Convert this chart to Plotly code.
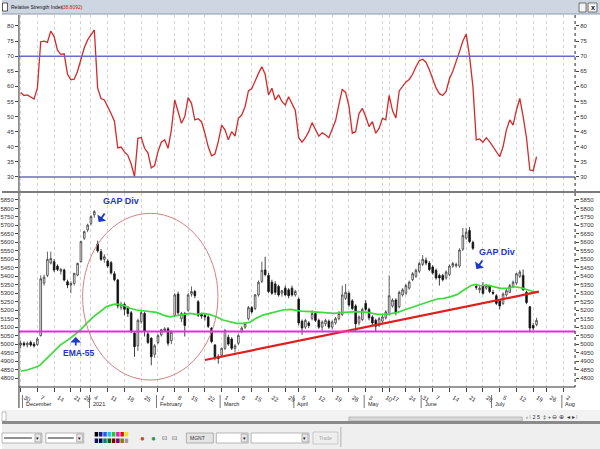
import plotly.graph_objects as go
import pandas as pd

W, H = 600, 449

# ---------------- trading calendar ----------------
holidays = ["2020-12-24", "2020-12-25", "2020-12-31", "2021-01-01", "2021-02-12",
            "2021-03-11", "2021-04-02", "2021-05-12", "2021-05-13", "2021-05-14",
            "2021-05-26", "2021-06-01", "2021-07-20"]
days = pd.bdate_range("2020-11-30", "2021-08-06")
days = days[~days.isin(pd.to_datetime(holidays))]

# ---------------- price data (OHLC, one per trading day) ----------------
open_ = [4995, 5005, 4995, 5010, 5000, 4998, 5050, 5360, 5405, 5478,
         5486, 5460, 5430, 5437, 5368, 5348, 5358, 5407, 5486, 5624,
         5673, 5712, 5762, 5590, 5545, 5500, 5490, 5480, 5415, 5378,
         5215, 5235, 5215, 5185, 5065, 4990, 5132, 5180, 5060, 5035,
         4940, 5010, 5055, 5080, 5090, 5020, 5170, 5295, 5150, 5180,
         5200, 5295, 5310, 5250, 5175, 5170, 5160, 5095, 4995, 4925,
         4935, 4975, 5040, 5030, 4975, 5005, 5075, 5100, 5150, 5215,
         5210, 5290, 5370, 5437, 5405, 5365, 5355, 5340, 5300, 5330,
         5320, 5330, 5290, 5265, 5135, 5100, 5125, 5150, 5180, 5140,
         5100, 5120, 5135, 5100, 5125, 5150, 5175, 5270, 5300, 5255,
         5225, 5125, 5145, 5240, 5205, 5160, 5140, 5110, 5135, 5155,
         5180, 5225, 5260, 5220, 5290, 5300, 5330, 5380, 5400, 5430,
         5470, 5495, 5478, 5455, 5435, 5405, 5405, 5390, 5410, 5460,
         5462, 5460, 5560, 5625, 5670, 5600, 5340, 5320, 5345, 5330,
         5345, 5305, 5285, 5255, 5240, 5290, 5305, 5340, 5360, 5400,
         5405, 5305, 5220, 5110, 5115]
high = [5020, 5015, 5015, 5020, 5012, 5040, 5405, 5410, 5545, 5545,
        5500, 5470, 5450, 5445, 5380, 5370, 5420, 5480, 5610, 5670,
        5710, 5760, 5790, 5610, 5560, 5530, 5500, 5490, 5430, 5385,
        5250, 5245, 5225, 5195, 5070, 5150, 5195, 5190, 5070, 5040,
        5000, 5060, 5090, 5100, 5100, 5080, 5300, 5310, 5190, 5190,
        5300, 5340, 5320, 5260, 5185, 5180, 5170, 5100, 5000, 4940,
        4980, 5090, 5055, 5040, 5000, 5060, 5105, 5125, 5225, 5225,
        5295, 5375, 5486, 5515, 5420, 5380, 5370, 5350, 5320, 5345,
        5330, 5345, 5320, 5275, 5145, 5150, 5135, 5200, 5190, 5150,
        5140, 5150, 5145, 5140, 5160, 5195, 5345, 5355, 5310, 5265,
        5235, 5170, 5215, 5260, 5215, 5170, 5150, 5160, 5170, 5200,
        5405, 5270, 5270, 5315, 5330, 5355, 5375, 5425, 5445, 5485,
        5525, 5510, 5490, 5465, 5445, 5415, 5415, 5435, 5470, 5485,
        5480, 5565, 5685, 5685, 5690, 5610, 5355, 5345, 5365, 5355,
        5350, 5320, 5295, 5265, 5305, 5325, 5355, 5375, 5420, 5437,
        5440, 5315, 5225, 5125, 5155]
low = [4975, 4985, 4980, 4985, 4980, 4990, 5045, 5345, 5395, 5470,
       5425, 5430, 5410, 5370, 5330, 5300, 5345, 5400, 5480, 5615,
       5660, 5700, 5745, 5540, 5490, 5480, 5450, 5410, 5370, 5210,
       5200, 5170, 5160, 5065, 4925, 4960, 5120, 5045, 5000, 4875,
       4920, 5000, 5045, 5070, 4990, 5000, 5160, 5170, 5130, 5045,
       5190, 5280, 5270, 5160, 5150, 5140, 5095, 5005, 4905, 4885,
       4920, 4965, 4990, 4965, 4950, 4995, 5065, 5090, 5140, 5180,
       5200, 5280, 5360, 5400, 5300, 5290, 5290, 5280, 5280, 5285,
       5270, 5280, 5280, 5110, 5055, 5090, 5095, 5140, 5130, 5090,
       5070, 5105, 5090, 5085, 5115, 5140, 5165, 5260, 5220, 5200,
       5075, 5110, 5135, 5195, 5140, 5110, 5075, 5100, 5125, 5145,
       5170, 5215, 5170, 5210, 5280, 5290, 5320, 5370, 5390, 5420,
       5460, 5465, 5430, 5410, 5380, 5345, 5370, 5380, 5400, 5450,
       5450, 5450, 5550, 5615, 5595, 5555, 5320, 5300, 5290, 5320,
       5300, 5290, 5230, 5205, 5230, 5280, 5300, 5330, 5350, 5390,
       5315, 5235, 5070, 5080, 5105]
close = [5005, 4995, 5005, 4995, 4990, 5030, 5385, 5395, 5500, 5505,
         5437, 5440, 5440, 5378, 5348, 5358, 5417, 5476, 5604, 5663,
         5702, 5752, 5781, 5550, 5500, 5515, 5460, 5420, 5380, 5225,
         5235, 5205, 5180, 5075, 4985, 5140, 5185, 5075, 5010, 4925,
         4990, 5050, 5085, 5090, 5005, 5070, 5290, 5185, 5180, 5110,
         5290, 5310, 5285, 5170, 5165, 5160, 5105, 5015, 4925, 4915,
         4975, 5080, 5000, 4975, 4990, 5050, 5095, 5120, 5215, 5190,
         5290, 5365, 5435, 5410, 5310, 5300, 5305, 5290, 5315, 5290,
         5285, 5290, 5310, 5125, 5095, 5140, 5110, 5180, 5140, 5100,
         5130, 5140, 5100, 5130, 5150, 5180, 5290, 5305, 5230, 5210,
         5120, 5160, 5205, 5205, 5155, 5125, 5105, 5150, 5160, 5190,
         5285, 5260, 5185, 5305, 5320, 5345, 5365, 5415, 5435, 5475,
         5500, 5478, 5440, 5420, 5390, 5390, 5380, 5425, 5460, 5475,
         5470, 5555, 5640, 5660, 5605, 5565, 5335, 5330, 5300, 5345,
         5310, 5300, 5240, 5225, 5295, 5315, 5345, 5365, 5415, 5425,
         5320, 5245, 5095, 5095, 5140]

# ---------------- RSI (one per trading day) ----------------
rsi = [58, 57, 57.2, 56.6, 55.8, 59.4, 74.8, 75, 74.6, 78.3,
       76.5, 72, 70.6, 70.8, 64, 62.2, 62.4, 65, 68.5, 72.8,
       75.4, 77, 78.7, 59.4, 56, 55.5, 53.5, 51, 48.5, 39.6,
       39.9, 38.3, 37.2, 34.3, 30.1, 42.8, 43.1, 39.5, 38, 33,
       33.8, 38.4, 41.5, 42.3, 39.5, 45.6, 55.5, 51.6, 47.8, 50,
       56.3, 54.4, 48.9, 49.3, 48.3, 44.5, 40, 37, 37.6, 41.7,
       47.2, 45.6, 42.3, 45, 43.5, 49.4, 50.5, 53.3, 58.5, 59.3,
       62.1, 64.3, 66.5, 64, 57.2, 59.4, 55.5, 57.2, 55, 53.8,
       56.6, 54.4, 52, 43, 41.5, 43, 45, 48, 45.5, 43.5,
       44.6, 44, 43, 45.5, 48.6, 54, 59, 58, 53.5, 44.5,
       45, 51, 52.7, 50, 46.7, 48.3, 44.5, 46.1, 49.4, 48.9,
       57, 52, 49.5, 58.5, 60, 61.5, 62.3, 64, 66.5, 68.5,
       69, 68, 65.5, 62.5, 59.5, 57.6, 57, 58.3, 62.5, 65,
       68, 71.5, 75, 77.3, 70, 60, 42.3, 42.6, 41.5, 43,
       41.7, 40, 38.4, 36.7, 40, 45.6, 48.9, 47.2, 52.2, 56,
       50, 43, 32.3, 32.1, 36.7]
rsi_levels = [70, 30]

# ---------------- EMA-55 ----------------
ema_x = [0, 1.9, 4.9, 5.8, 8.8, 11.8, 14.8, 17.8, 19.7, 21.7, 23.7, 25.7, 27.7, 28.7,
         30.6, 32.6, 34.6, 36.6, 38.6, 40.6, 42.6, 44.5, 46.5, 48.5, 50.5, 52.5, 54.5,
         56.4, 58.4, 60.4, 62.4, 64.4, 66.4, 68.3, 70.3, 72.3, 74.3, 76.3, 78.3, 80.5,
         83.7, 86.7, 90.7, 93.6, 96.6, 100.6, 103.6, 106.5, 109.5, 112.5, 114.5, 116.5,
         118.4, 120.4, 122.4, 124.4, 126.4, 128.4, 130.4, 132.3, 134.3, 135.8, 137.3,
         139.3, 141.3, 143.3, 145.2, 147.2, 149.2, 151.2, 153.2, 154.7]
ema_y = [4840, 4847, 4866, 4876, 4935, 4994, 5034, 5083, 5122, 5161, 5191, 5221, 5234, 5236,
         5230, 5211, 5201, 5197, 5195, 5187, 5171, 5161, 5167, 5175, 5181, 5175, 5181,
         5175, 5161, 5142, 5132, 5122, 5122, 5128, 5152, 5171, 5181, 5191, 5201, 5205,
         5195, 5191, 5187, 5181, 5187, 5191, 5187, 5175, 5175, 5187, 5201, 5215,
         5230, 5240, 5254, 5266, 5270, 5280, 5293, 5319, 5344, 5352, 5344,
         5348, 5338, 5329, 5329, 5338, 5333, 5319, 5309, 5305]

# ---------------- drawn studies ----------------
trend_x = [55, 154.7]
trend_y = [4906, 5309]
support_level = 5075
circle_x = [18.5, 58.9]
circle_y = [4788, 5771]

month_names = {12: "December", 1: "2021", 2: "February", 3: "March", 4: "April",
               5: "May", 6: "June", 7: "July", 8: "Aug"}

XR = [-0.5, 165.5]
n = len(close)
xs = list(range(n))

def px(x):
    return x / W

def py(y):
    return 1 - y / H

week_ticks, week_text = [], []
for i, d in enumerate(days):
    if i > XR[1]:
        break
    if i == 0 or d.isocalendar()[1] != days[i - 1].isocalendar()[1]:
        week_ticks.append(i)
        week_text.append(str(d.day))

month_ticks = []
for i, d in enumerate(days):
    if i > XR[1]:
        break
    if i > 0 and d.month != days[i - 1].month:
        month_ticks.append((i, month_names[d.month]))

FONT = "Liberation Sans, Arial, sans-serif"
BLUE = "#1d37c8"

fig = go.Figure()

fig.add_trace(go.Scatter(x=xs, y=rsi, mode="lines", xaxis="x", yaxis="y",
                         line=dict(color="#d42a2a", width=1.3), hoverinfo="skip"))
fig.add_trace(go.Scatter(x=[XR[0]], y=[50], mode="markers", xaxis="x", yaxis="y3",
                         marker=dict(opacity=0), hoverinfo="skip"))

fig.add_trace(go.Candlestick(
    x=xs, open=open_, high=high, low=low, close=close, xaxis="x2", yaxis="y2",
    increasing=dict(line=dict(color="#3a3a3a", width=0.8), fillcolor="#ffffff"),
    decreasing=dict(line=dict(color="#111111", width=0.8), fillcolor="#111111"),
    whiskerwidth=0, hoverinfo="skip"))
fig.add_trace(go.Scatter(x=ema_x, y=ema_y, mode="lines", xaxis="x2", yaxis="y2",
                         line=dict(color="#3cdc3c", width=1.7), hoverinfo="skip"))
fig.add_trace(go.Scatter(x=trend_x, y=trend_y, mode="lines", xaxis="x2", yaxis="y2",
                         line=dict(color="#e01e1e", width=2.2), hoverinfo="skip"))
fig.add_trace(go.Scatter(x=[XR[0]], y=[5300], mode="markers", xaxis="x2", yaxis="y4",
                         marker=dict(opacity=0), hoverinfo="skip"))

xdom = [px(17), px(575)]
rsi_dom = [py(191), py(15)]
pr_dom = [py(387), py(193)]
rsi_range = [25.36, 83.64]
pr_range = [4747, 5891]

tickfont = dict(family=FONT, size=6, color="#333333")
xcommon = dict(domain=xdom, range=XR, tickmode="array", tickvals=week_ticks,
               showgrid=True, gridcolor="#d2d2d2", griddash="dot", gridwidth=1,
               zeroline=False, fixedrange=True)
ycommon = dict(showgrid=False, zeroline=False, ticks="outside", ticklen=3,
               tickcolor="#444444", tickfont=tickfont, fixedrange=True)

shapes = []
annos = []

def rect(x0, y0, x1, y1, fill, line="rgba(0,0,0,0)", lw=1):
    shapes.append(dict(type="rect", xref="paper", yref="paper", x0=px(x0), x1=px(x1),
                       y0=py(y1), y1=py(y0), fillcolor=fill,
                       line=dict(color=line, width=lw), layer="above"))

def hline(x0, x1, y, color, width=1, dash="solid"):
    shapes.append(dict(type="line", xref="paper", yref="paper", x0=px(x0), x1=px(x1),
                       y0=py(y), y1=py(y), line=dict(color=color, width=width, dash=dash)))

def vline(x, y0, y1, color, width=1, dash="solid"):
    shapes.append(dict(type="line", xref="paper", yref="paper", x0=px(x), x1=px(x),
                       y0=py(y0), y1=py(y1), line=dict(color=color, width=width, dash=dash)))

def text(x, y, s, size=6, color="#222222", xanchor="left", bold=False):
    if bold:
        s = "<b>" + s + "</b>"
    annos.append(dict(xref="paper", yref="paper", x=px(x), y=py(y), text=s, showarrow=False,
                      xanchor=xanchor, yanchor="middle",
                      font=dict(family=FONT, size=size, color=color)))

# RSI reference levels
for lv in rsi_levels:
    shapes.append(dict(type="line", xref="x", yref="y", x0=XR[0], x1=XR[1], y0=lv, y1=lv,
                       line=dict(color="#6b6bc9", width=1.5)))
# support line
shapes.append(dict(type="line", xref="x2", yref="y2", x0=XR[0], x1=XR[1],
                   y0=support_level, y1=support_level, line=dict(color="#e02ee0", width=2)))
# circle
shapes.append(dict(type="circle", xref="x2", yref="y2", x0=circle_x[0], x1=circle_x[1],
                   y0=circle_y[0], y1=circle_y[1], line=dict(color="#d98080", width=1)))

# header bar
rect(0, 0, 600, 14, "#cdd6e1")
hline(0, 600, 14, "#8e9aaa", 1)
rect(0.5, 3, 5.5, 11, "#ffffff", "#333333", 0.8)
text(7, 7, "Relative Strength Index", size=5, color="#111111")
text(57, 7, "(38.8092)", size=5, color="#d02020")
rect(579, 3, 586, 12, "#f4f4f4", "#555555", 0.8)
rect(588, 3, 597, 12, "#f4f4f4", "#555555", 0.8)
text(592.5, 7.5, "x", size=7, color="#111111", xanchor="center", bold=True)

# panel frame lines
vline(17, 15, 191, "#333333", 1)
vline(17, 193, 408, "#333333", 1)
vline(575, 15, 191, "#222222", 1, "dot")
vline(575, 193, 387, "#222222", 1, "dot")
hline(0, 600, 192, "#7c7c7c", 2)
hline(17, 575, 387, "#333333", 1)

# month labels and separators
for i, name in month_ticks:
    xm = 17 + (i + 0.5) * (558 / 166)
    vline(xm - 1.5, 395, 408, "#555555", 0.8)
    text(xm, 404, name, size=5.5, color="#222222")

# lower chrome
rect(0, 410, 600, 421, "#f2f2f2")
rect(0, 412, 4, 421, "#ffffff", "#999999", 0.6)
rect(348, 417, 522, 421, "#d8d8d8", "#a0a0a0", 0.6)
text(524, 416.5, "‹ ⁞ 2 5  ‡ + ⊖ ⊕  ◂ ▸ ⁞", size=5.5, color="#333333")
rect(0, 421, 600, 424, "#8a8a8a")
rect(0, 424, 600, 449, "#efefef")
# dropdowns
rect(0, 433, 40, 443, "#ffffff", "#8a8a8a", 0.6)
hline(2, 30, 438, "#222222", 1)
rect(33, 434, 39, 442, "#e8e8e8", "#8a8a8a", 0.6)
text(36, 438, "▾", size=5, color="#111111", xanchor="center")
rect(44, 433, 82, 443, "#ffffff", "#8a8a8a", 0.6)
hline(46, 72, 438, "#222222", 1)
rect(75, 434, 81, 442, "#e8e8e8", "#8a8a8a", 0.6)
text(78, 438, "▾", size=5, color="#111111", xanchor="center")
# palette
pal1 = ["#000000", "#1a1a80", "#2a55ff", "#19c7e0", "#30c030", "#e020c0", "#e01010", "#f0e020"]
pal2 = ["#101060", "#000050", "#008080", "#006000", "#800000", "#800080", "#808000", "#a0a0a0"]
for k, c in enumerate(pal1):
    rect(93 + k * 4.3, 432, 96.5 + k * 4.3, 436.5, c)
for k, c in enumerate(pal2):
    rect(93 + k * 4.3, 438.5, 96.5 + k * 4.3, 443, c)
text(141, 438, "●", size=8, color="#c84a2a", xanchor="center")
text(152, 438, "●", size=8, color="#2a9a4a", xanchor="center")
text(163, 438, "⊡", size=6, color="#444444", xanchor="center")
text(173, 438, "⊡", size=6, color="#444444", xanchor="center")
rect(185, 433, 212, 443, "#e4e4e4", "#8a8a8a", 0.6)
text(187, 438, "MGNT", size=5, color="#333333")
rect(215, 433, 247, 443, "#ffffff", "#8a8a8a", 0.6)
rect(240, 434, 246, 442, "#e8e8e8", "#8a8a8a", 0.6)
text(243, 438, "▾", size=5, color="#111111", xanchor="center")
rect(250, 433, 308, 443, "#ffffff", "#8a8a8a", 0.6)
rect(301, 434, 307, 442, "#e8e8e8", "#8a8a8a", 0.6)
text(304, 438, "▾", size=5, color="#111111", xanchor="center")
rect(312, 432, 337, 444, "#efefef", "#b0b0b0", 0.6)
text(324.5, 438, "Trade", size=5, color="#a8a8a8", xanchor="center")
vline(340, 427, 447, "#a0a0a0", 0.8)

# study annotations
annos.append(dict(xref="paper", yref="paper", x=px(99), y=py(201), text="<b>GAP Div</b>",
                  showarrow=False, xanchor="left", yanchor="middle",
                  font=dict(family=FONT, size=9, color=BLUE)))
annos.append(dict(xref="paper", yref="paper", x=px(97), y=py(222), ax=7, ay=-10,
                  text="", showarrow=True, arrowhead=1, arrowsize=1, arrowwidth=1.8,
                  arrowcolor=BLUE))
annos.append(dict(xref="paper", yref="paper", x=px(477), y=py(252), text="<b>GAP Div</b>",
                  showarrow=False, xanchor="left", yanchor="middle",
                  font=dict(family=FONT, size=9, color=BLUE)))
annos.append(dict(xref="paper", yref="paper", x=px(476), y=py(269), ax=7, ay=-10,
                  text="", showarrow=True, arrowhead=1, arrowsize=1, arrowwidth=1.8,
                  arrowcolor=BLUE))
annos.append(dict(xref="paper", yref="paper", x=px(59), y=py(353), text="<b>EMA-55</b>",
                  showarrow=False, xanchor="left", yanchor="middle",
                  font=dict(family=FONT, size=8.5, color=BLUE)))
annos.append(dict(xref="paper", yref="paper", x=px(74), y=py(337), ax=0, ay=10,
                  text="", showarrow=True, arrowhead=1, arrowsize=1, arrowwidth=1.8,
                  arrowcolor=BLUE))

rsi_ticks = list(range(30, 85, 5))
pr_ticks = list(range(4800, 5900, 50))

fig.update_layout(
    width=W, height=H, margin=dict(l=0, r=0, t=0, b=0),
    paper_bgcolor="#ffffff", plot_bgcolor="#ffffff", showlegend=False,
    xaxis=dict(**xcommon, anchor="y", showticklabels=False, ticks=""),
    xaxis2=dict(**xcommon, anchor="y2", ticktext=week_text, showticklabels=True,
                ticks="outside", ticklen=4, tickcolor="#444444", tickfont=tickfont,
                ticklabelshift=4, rangeslider=dict(visible=False)),
    yaxis=dict(**ycommon, domain=rsi_dom, range=rsi_range, anchor="x", side="left",
               tickvals=rsi_ticks),
    yaxis3=dict(**ycommon, domain=rsi_dom, range=rsi_range, overlaying="y", anchor="x",
                side="right", tickvals=rsi_ticks),
    yaxis2=dict(**ycommon, domain=pr_dom, range=pr_range, anchor="x2", side="left",
                tickvals=pr_ticks),
    yaxis4=dict(**ycommon, domain=pr_dom, range=pr_range, overlaying="y2", anchor="x2",
                side="right", tickvals=pr_ticks),
    shapes=shapes, annotations=annos, dragmode=False,
)

fig.write_html("out.html")
